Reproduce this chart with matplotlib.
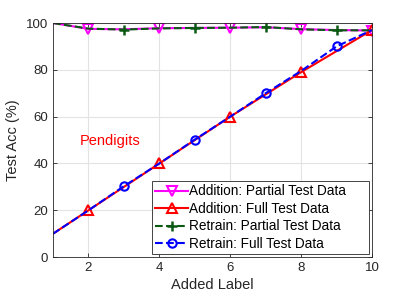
import numpy as np
import matplotlib
matplotlib.use('Agg')
import matplotlib.pyplot as plt

#%% data
labels = [1, 2, 3, 4, 5, 6, 7, 8, 9, 10]
add_partial = [100, 97.5, 97.3, 97.8, 97.9, 98.0, 98.2, 97.4, 97.0, 96.8]
add_full = [10, 20, 30, 40, 50, 60, 69.5, 79, 88, 97]
re_partial = [100, 97.6, 97.2, 97.7, 97.9, 98.0, 98.3, 97.3, 96.9, 96.9]
re_full = [10, 20, 30.3, 40, 50.2, 60, 70, 79.5, 90, 97]

plt.rcParams['font.family'] = ['Liberation Sans', 'DejaVu Sans']
plt.rcParams['font.size'] = 10

#%% plot
fig = plt.figure(figsize=(4.11, 2.99), dpi=100)
ax = fig.add_axes([0.129, 0.140, 0.776, 0.783])

ax.plot(labels, add_partial, '-', color='magenta', lw=1.5, marker='v',
        markevery=[1, 3, 5, 7, 9], ms=7, mfc='none', mew=1.5,
        label='Addition: Partial Test Data')
ax.plot(labels, add_full, '-', color='red', lw=1.5, marker='^',
        markevery=[1, 3, 5, 7, 9], ms=7, mfc='none', mew=1.5,
        label='Addition: Full Test Data')
ax.plot(labels, re_partial, '--', color='#0b5a14', lw=1.5, marker='+',
        markevery=[2, 4, 6, 8], ms=7, mew=1.8,
        label='Retrain: Partial Test Data')
ax.plot(labels, re_full, '--', color='blue', lw=1.5, marker='o',
        markevery=[2, 4, 6, 8], ms=6, mfc='none', mew=1.5,
        label='Retrain: Full Test Data')

ax.text(1.75, 49.5, 'Pendigits', color='red', fontsize=10.5, va='center')

ax.set_xlim(1, 10)
ax.set_ylim(0, 100)
ax.set_xticks([2, 4, 6, 8, 10])
ax.set_yticks([0, 20, 40, 60, 80, 100])
ax.grid(True, color='#e3e3e3', lw=0.8)
ax.set_axisbelow(True)
ax.tick_params(direction='in', colors='#262626', length=3, width=0.6,
               top=True, right=True, labelsize=9.5)
for s in ax.spines.values():
    s.set_color('#262626')
    s.set_linewidth(0.6)
ax.set_xlabel('Added Label', color='#262626', fontsize=10.5, labelpad=3)
ax.set_ylabel('Test Acc (%)', color='#262626', fontsize=10.5)

# legend box stretched like matlab's (extra room on the right)
leg = ax.legend(loc='lower left', bbox_to_anchor=(0.31, 0.013, 0.681, 0.31),
                mode='expand', borderaxespad=0, fontsize=9.8,
                handlelength=2.4, handletextpad=0.1, borderpad=0.25,
                labelspacing=0.25, fancybox=False, framealpha=1)
leg.get_frame().set_edgecolor('#262626')
leg.get_frame().set_linewidth(0.6)

fig.savefig('out.png', dpi=100)
